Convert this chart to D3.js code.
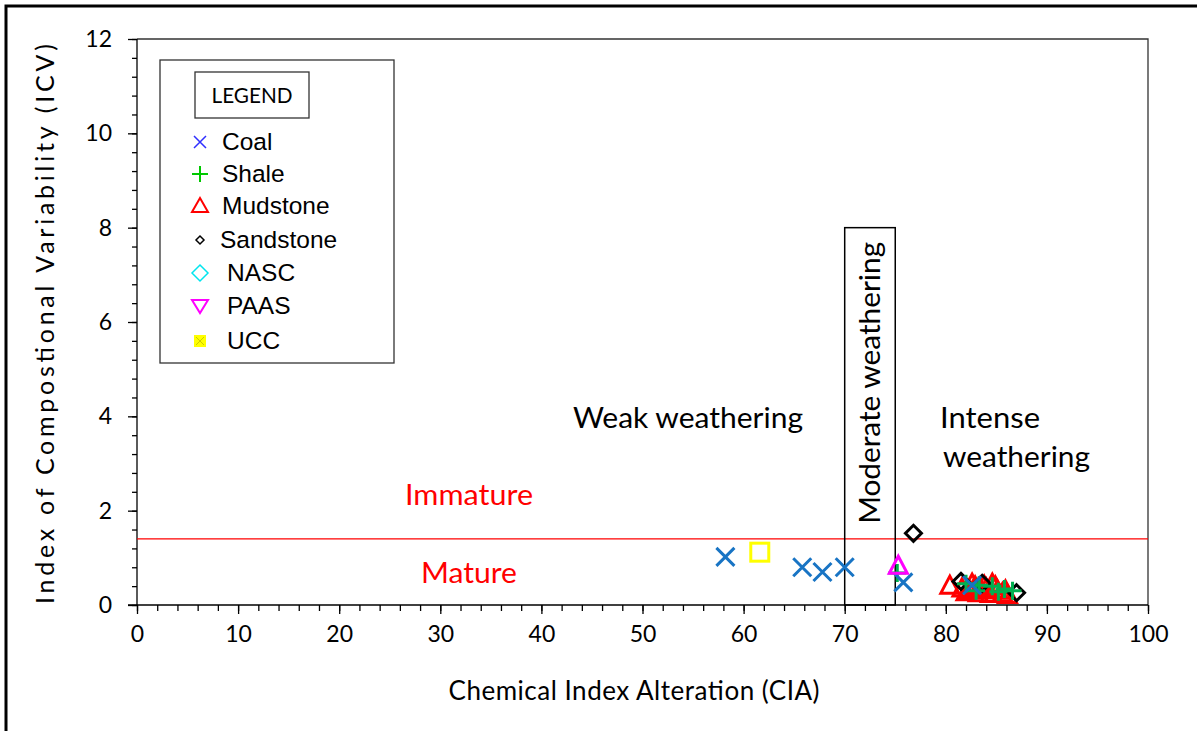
<!DOCTYPE html>
<html>
<head>
<meta charset="utf-8">
<script src="https://cdn.jsdelivr.net/npm/d3@7"></script>
<style>
  body { margin: 0; background: #fff; }
  svg { display: block; }
</style>
</head>
<body>
<div id="chart"></div>
<script>
// ---- data ----
const coalCIA = [58.2, 65.8, 67.8, 70.0, 75.8, 82.6];
const coalICV = [1.02, 0.80, 0.70, 0.80, 0.48, 0.42];

const shaleCIA = [75.2, 82.0, 83.3, 84.6, 85.8, 86.6, 83.0, 85.2];
const shaleICV = [0.68, 0.45, 0.42, 0.40, 0.34, 0.30, 0.30, 0.28];

const mudCIA = [80.4, 81.6, 82.3, 82.9, 83.5, 84.0, 84.6, 85.1, 85.6, 86.1, 82.6, 84.9, 83.2, 85.9, 83.8, 84.4, 82.0];
const mudICV = [0.40, 0.34, 0.30, 0.38, 0.30, 0.34, 0.44, 0.30, 0.24, 0.20, 0.44, 0.38, 0.24, 0.30, 0.40, 0.22, 0.26];

const sandCIA = [76.8, 81.5, 83.6, 87.0];
const sandICV = [1.52, 0.50, 0.46, 0.26];

const paasCIA = [75.3];
const paasICV = [0.80];

const uccCIA = [61.6];
const uccICV = [1.12];

const legendNames = ["Coal", "Shale", "Mudstone", "Sandstone", "NASC", "PAAS", "UCC"];
const legendColors = ["#2f2fff", "#00c800", "#ff0000", "#000000", "#00e5ee", "#ff00ff", "#ffff00"];

const xTicks = [0, 10, 20, 30, 40, 50, 60, 70, 80, 90, 100];
const yTicks = [0, 2, 4, 6, 8, 10, 12];
const maturityLimit = 1.4;

// ---- layout ----
const W = 1197, H = 731;
const svg = d3.select('#chart').append('svg')
  .attr('width', W).attr('height', H);

const plot = {left: 137, right: 1148, top: 39, bottom: 605};

const x = d3.scaleLinear().domain([0, 100]).range([plot.left, plot.right]);
const y = d3.scaleLinear().domain([0, 12]).range([plot.bottom, plot.top]);

const calibri = "Lato, 'Open Sans', sans-serif";
const arial = "'Liberation Sans', Arial, sans-serif";

// outer frame (open at right/bottom)
svg.append('path')
  .attr('d', `M6,${H} V6 H${W}`)
  .attr('fill', 'none').attr('stroke', '#000').attr('stroke-width', 3);

// plot box top/right
svg.append('path')
  .attr('d', `M${plot.left},${plot.top} H${plot.right} V${plot.bottom}`)
  .attr('fill', 'none').attr('stroke', '#333').attr('stroke-width', 1.3);

// x axis
const xMinor = d3.range(0, 100.01, 2);
const xAxisG = svg.append('g').attr('transform', `translate(0,${plot.bottom})`);
xAxisG.append('g')
  .call(d3.axisBottom(x).tickValues(xMinor).tickSize(6).tickFormat(''))
  .call(g => g.select('.domain').remove());
xAxisG.append('g')
  .call(d3.axisBottom(x).tickValues(xTicks).tickSize(9).tickPadding(12).tickFormat(d3.format('d')))
  .call(g => g.select('.domain').attr('d', `M${plot.left - 9},0 H${plot.right}`))
  .call(g => g.selectAll('text').attr('font-family', calibri).attr('font-size', 23).attr('fill', '#000'));
xAxisG.selectAll('line').attr('stroke', '#000').attr('stroke-width', 1.3);
xAxisG.selectAll('.domain').attr('stroke', '#000').attr('stroke-width', 1.3);

// y axis
const yMinor = d3.range(0, 12.01, 0.4);
const yAxisG = svg.append('g').attr('transform', `translate(${plot.left},0)`);
yAxisG.append('g')
  .call(d3.axisLeft(y).tickValues(yMinor).tickSize(5).tickFormat(''))
  .call(g => g.select('.domain').remove());
yAxisG.append('g')
  .call(d3.axisLeft(y).tickValues(yTicks).tickSize(9).tickPadding(16).tickFormat(d3.format('d')))
  .call(g => g.select('.domain').attr('d', `M0,${plot.top} V${plot.bottom}`))
  .call(g => g.selectAll('text').attr('font-family', calibri).attr('font-size', 23).attr('fill', '#000'));
yAxisG.selectAll('line').attr('stroke', '#000').attr('stroke-width', 1.3);
yAxisG.selectAll('.domain').attr('stroke', '#000').attr('stroke-width', 1.3);

// axis titles
svg.append('text')
  .attr('x', 634).attr('y', 700)
  .attr('text-anchor', 'middle')
  .attr('font-family', calibri).attr('font-size', 26)
  .attr('textLength', 371).attr('lengthAdjust', 'spacing')
  .text('Chemical Index Alteration (CIA)');

svg.append('text')
  .attr('transform', `translate(54,${(plot.top + plot.bottom) / 2 + 2}) rotate(-90)`)
  .attr('text-anchor', 'middle')
  .attr('font-family', calibri).attr('font-size', 25)
  .attr('textLength', 560).attr('lengthAdjust', 'spacing')
  .text('Index of Compostional  Variability (ICV)');

// maturity line
svg.append('line')
  .attr('x1', x(0)).attr('x2', x(100))
  .attr('y1', y(maturityLimit)).attr('y2', y(maturityLimit))
  .attr('stroke', '#ff0000').attr('stroke-width', 1.3);

// moderate weathering box (CIA 70-75, up to ICV 8)
svg.append('rect')
  .attr('x', x(70)).attr('y', y(8))
  .attr('width', x(75) - x(70)).attr('height', y(0) - y(8))
  .attr('fill', 'none').attr('stroke', '#000').attr('stroke-width', 1.5);
svg.append('text')
  .attr('transform', `translate(${(x(70) + x(75)) / 2 + 10},${y(4.71)}) rotate(-90)`)
  .attr('text-anchor', 'middle')
  .attr('font-family', calibri).attr('font-size', 29)
  .attr('textLength', 282).attr('lengthAdjust', 'spacingAndGlyphs')
  .text('Moderate weathering');

// region labels
svg.append('text')
  .attr('x', 688).attr('y', 428).attr('text-anchor', 'middle')
  .attr('font-family', calibri).attr('font-size', 29)
  .attr('textLength', 230).attr('lengthAdjust', 'spacingAndGlyphs')
  .text('Weak weathering');
svg.append('text')
  .attr('x', 940).attr('y', 428)
  .attr('font-family', calibri).attr('font-size', 29)
  .attr('textLength', 100).attr('lengthAdjust', 'spacingAndGlyphs')
  .text('Intense');
svg.append('text')
  .attr('x', 943).attr('y', 467)
  .attr('font-family', calibri).attr('font-size', 29)
  .attr('textLength', 147).attr('lengthAdjust', 'spacingAndGlyphs')
  .text('weathering');
svg.append('text')
  .attr('x', 469).attr('y', 505).attr('text-anchor', 'middle')
  .attr('font-family', calibri).attr('font-size', 29).attr('fill', '#ff0000')
  .attr('textLength', 128).attr('lengthAdjust', 'spacingAndGlyphs')
  .text('Immature');
svg.append('text')
  .attr('x', 469).attr('y', 583).attr('text-anchor', 'middle')
  .attr('font-family', calibri).attr('font-size', 29).attr('fill', '#ff0000')
  .attr('textLength', 96).attr('lengthAdjust', 'spacingAndGlyphs')
  .text('Mature');

// ---- markers ----
function drawSeries(cia, icv, drawFn) {
  const pts = cia.map((c, i) => [c, icv[i]]);
  const g = svg.append('g');
  pts.forEach(p => drawFn(g, x(p[0]), y(p[1])));
}

// mudstone: open red triangles
drawSeries(mudCIA, mudICV, (g, px, py) => {
  g.append('path')
    .attr('d', `M${px},${py - 10} L${px + 9},${py + 7} L${px - 9},${py + 7} Z`)
    .attr('fill', 'none').attr('stroke', '#ff0000').attr('stroke-width', 3);
});
// sandstone: black diamonds
drawSeries(sandCIA, sandICV, (g, px, py) => {
  g.append('path')
    .attr('d', `M${px},${py - 8} L${px + 8},${py} L${px},${py + 8} L${px - 8},${py} Z`)
    .attr('fill', 'none').attr('stroke', '#000').attr('stroke-width', 3);
});
// shale: green plus
drawSeries(shaleCIA, shaleICV, (g, px, py) => {
  g.append('path')
    .attr('d', `M${px - 9},${py} H${px + 9} M${px},${py - 9} V${py + 9}`)
    .attr('stroke', '#00b050').attr('stroke-width', 3);
});
// coal: blue x
drawSeries(coalCIA, coalICV, (g, px, py) => {
  g.append('path')
    .attr('d', `M${px - 9},${py - 9} L${px + 9},${py + 9} M${px + 9},${py - 9} L${px - 9},${py + 9}`)
    .attr('stroke', '#1874c4').attr('stroke-width', 3);
});
// PAAS: magenta triangle
drawSeries(paasCIA, paasICV, (g, px, py) => {
  g.append('path')
    .attr('d', `M${px},${py - 11} L${px + 9},${py + 6} L${px - 9},${py + 6} Z`)
    .attr('fill', 'none').attr('stroke', '#ff00ff').attr('stroke-width', 3);
});
// UCC: yellow square
drawSeries(uccCIA, uccICV, (g, px, py) => {
  g.append('rect')
    .attr('x', px - 9).attr('y', py - 9).attr('width', 18).attr('height', 18)
    .attr('fill', 'none').attr('stroke', '#ffff00').attr('stroke-width', 3);
});

// ---- legend ----
const lg = svg.append('g');
lg.append('rect')
  .attr('x', 160).attr('y', 60).attr('width', 234).attr('height', 303)
  .attr('fill', '#fff').attr('stroke', '#333').attr('stroke-width', 1.3);
lg.append('rect')
  .attr('x', 195).attr('y', 72).attr('width', 114).attr('height', 46)
  .attr('fill', 'none').attr('stroke', '#333').attr('stroke-width', 1.3);
lg.append('text')
  .attr('x', 252).attr('y', 103).attr('text-anchor', 'middle')
  .attr('font-family', calibri).attr('font-size', 21)
  .attr('textLength', 81).attr('lengthAdjust', 'spacingAndGlyphs')
  .text('LEGEND');

const legendY = [142, 174, 206, 240, 273, 306, 341];
const legendTextX = [222, 222, 222, 220, 227, 227, 227];
legendNames.forEach((name, i) => {
  const cy = legendY[i], cx = 200, c = legendColors[i];
  const m = lg.append('g');
  if (name === 'Coal') {
    m.append('path').attr('d', `M${cx - 6},${cy - 6} L${cx + 6},${cy + 6} M${cx + 6},${cy - 6} L${cx - 6},${cy + 6}`)
      .attr('stroke', c).attr('stroke-width', 1.5);
  } else if (name === 'Shale') {
    m.append('path').attr('d', `M${cx - 8},${cy} H${cx + 8} M${cx},${cy - 8} V${cy + 8}`)
      .attr('stroke', c).attr('stroke-width', 2);
  } else if (name === 'Mudstone') {
    m.append('path').attr('d', `M${cx},${cy - 8} L${cx + 8},${cy + 6} L${cx - 8},${cy + 6} Z`)
      .attr('fill', 'none').attr('stroke', c).attr('stroke-width', 2);
  } else if (name === 'Sandstone') {
    m.append('path').attr('d', `M${cx},${cy - 4} L${cx + 4},${cy} L${cx},${cy + 4} L${cx - 4},${cy} Z`)
      .attr('fill', 'none').attr('stroke', c).attr('stroke-width', 1.5);
  } else if (name === 'NASC') {
    m.append('path').attr('d', `M${cx},${cy - 8} L${cx + 8},${cy} L${cx},${cy + 8} L${cx - 8},${cy} Z`)
      .attr('fill', 'none').attr('stroke', c).attr('stroke-width', 1.5);
  } else if (name === 'PAAS') {
    m.append('path').attr('d', `M${cx - 8},${cy - 6} L${cx + 8},${cy - 6} L${cx},${cy + 7} Z`)
      .attr('fill', 'none').attr('stroke', c).attr('stroke-width', 2);
  } else {
    m.append('rect').attr('x', cx - 6).attr('y', cy - 6).attr('width', 12).attr('height', 12)
      .attr('fill', c);
    m.append('path').attr('d', `M${cx - 4},${cy - 4} L${cx + 4},${cy + 4} M${cx + 4},${cy - 4} L${cx - 4},${cy + 4}`)
      .attr('stroke', '#cccc00').attr('stroke-width', 1);
  }
  lg.append('text')
    .attr('x', legendTextX[i]).attr('y', cy + 8)
    .attr('font-family', arial).attr('font-size', 24.5)
    .text(name);
});
</script>
</body>
</html>
